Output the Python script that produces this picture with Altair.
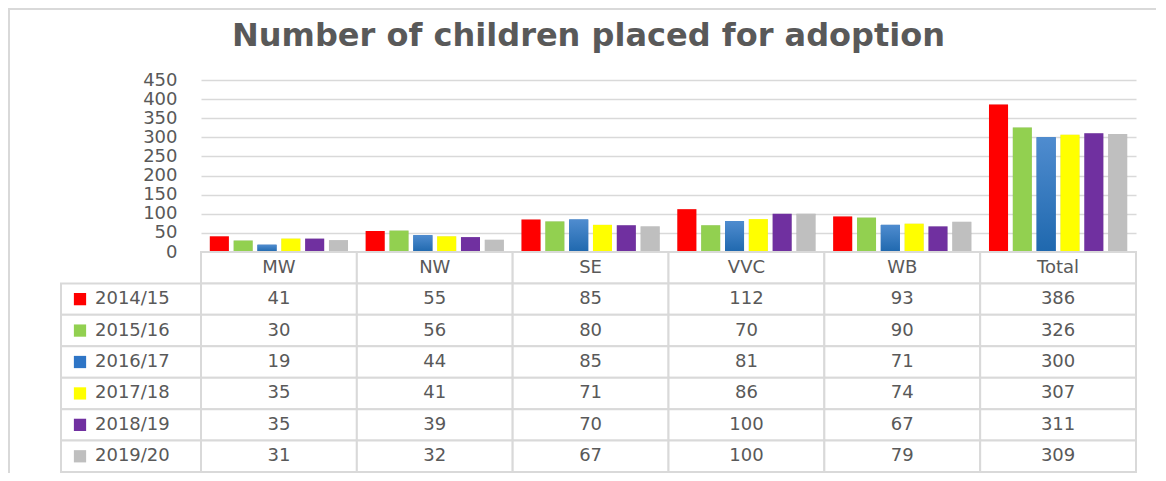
import altair as alt
import pandas as pd

cats = ["MW", "NW", "SE", "VVC", "WB", "Total"]
series = ["2014/15", "2015/16", "2016/17", "2017/18", "2018/19", "2019/20"]
v2014 = [41, 55, 85, 112, 93, 386]
v2015 = [30, 56, 80, 70, 90, 326]
v2016 = [19, 44, 85, 81, 71, 300]
v2017 = [35, 41, 71, 86, 74, 307]
v2018 = [35, 39, 70, 100, 67, 311]
v2019 = [31, 32, 67, 100, 79, 309]
colors = ["#FF0000", "#92D050", "#2E75C6", "#FFFF00", "#7030A0", "#BFBFBF"]
yticks = [0, 50, 100, 150, 200, 250, 300, 350, 400, 450]

values = [v2014, v2015, v2016, v2017, v2018, v2019]
rows = []
for s, vals in zip(series, values):
    for c, v in zip(cats, vals):
        rows.append({"cat": c, "series": s, "row": s, "value": v})
long = pd.DataFrame(rows)
header = pd.DataFrame({"cat": cats, "row": ["header"] * len(cats)})
cells = pd.concat([header, long[["cat", "row"]]], ignore_index=True)
legend_df = pd.DataFrame({"series": series, "row": series})

TXT = "#595959"
LINE = "#D9D9D9"
FONT = "DejaVu Sans"

X = alt.X("cat:N", sort=cats, scale=alt.Scale(domain=cats, paddingInner=0, paddingOuter=0), axis=None)
XO = alt.XOffset("series:N", sort=series, scale=alt.Scale(domain=series, paddingInner=0.2, paddingOuter=0.37))
Yv = alt.Y("value:Q", scale=alt.Scale(domain=[0, 450], range=[172, 0], nice=False),
           axis=alt.Axis(values=yticks, title=None, domain=False, ticks=False, labelPadding=24,
                         labelFont=FONT, labelFontSize=18, labelColor=TXT,
                         gridColor=LINE, gridWidth=1.5))
C = alt.Color("series:N", scale=alt.Scale(domain=series, range=colors), legend=None)

shadow = alt.Chart(long).mark_bar(color="#000000", opacity=0.16, xOffset=2.5).encode(
    x=X, xOffset=XO, y=Yv)
bars = alt.Chart(long).mark_bar().encode(x=X, xOffset=XO, y=Yv, color=C)
blue = alt.Chart(long).transform_filter(alt.datum.series == "2016/17").mark_bar(
    color=alt.Gradient(gradient="linear",
                       stops=[alt.GradientStop(color="#4F8CCF", offset=0),
                              alt.GradientStop(color="#1F68AE", offset=1)],
                       x1=0, x2=0, y1=0, y2=1)
).encode(x=X, xOffset=XO, y=Yv)
bar_layer = alt.layer(shadow, bars, blue)

Yr = alt.Y("row:N", sort=["header"] + series,
           scale=alt.Scale(domain=["header"] + series, range=[172, 392], paddingInner=0, paddingOuter=0),
           axis=None)

cell_marks = alt.Chart(cells).mark_rect(fill="#FFFFFF", stroke=LINE, strokeWidth=2).encode(x=X, y=Yr)
legend_cells = alt.Chart(legend_df).mark_rect(fill="#FFFFFF", stroke=LINE, strokeWidth=2).encode(
    x=alt.value(-140), x2=alt.value(0), y=Yr)
num_text = alt.Chart(long).mark_text(font=FONT, fontSize=18, color=TXT).encode(
    x=X, y=Yr, text="value:Q")
head_text = alt.Chart(header).mark_text(font=FONT, fontSize=18, color=TXT).encode(
    x=X, y=Yr, text="cat:N")
leg_sq = alt.Chart(legend_df).mark_square(size=150, opacity=1).encode(
    x=alt.value(-121), y=Yr, color=C)
leg_text = alt.Chart(legend_df).mark_text(font=FONT, fontSize=18, color=TXT, align="left").encode(
    x=alt.value(-106), y=Yr, text="series:N")
table_layer = alt.layer(cell_marks, legend_cells, num_text, head_text, leg_sq, leg_text)

frame = alt.Chart(pd.DataFrame({"a": [0]})).mark_rect(fillOpacity=0, stroke=LINE, strokeWidth=2).encode(
    x=alt.value(-192), x2=alt.value(1000), y=alt.value(-71), y2=alt.value(500))

chart = alt.layer(frame, bar_layer, table_layer).resolve_scale(y="independent").properties(
    width=935, height=172,
    padding={"left": 193, "top": 72, "right": 20, "bottom": 221},
    autosize=alt.AutoSizeParams(type="none"),
    title=alt.Title("Number of children placed for adoption", font=FONT, fontSize=32,
                    fontWeight="bold", color=TXT, anchor="middle", frame="group",
                    dx=-80, offset=-70, baseline="alphabetic"),
).configure_view(stroke=None)

chart.save("out.html", embed_options={"renderer": "svg", "actions": False})
